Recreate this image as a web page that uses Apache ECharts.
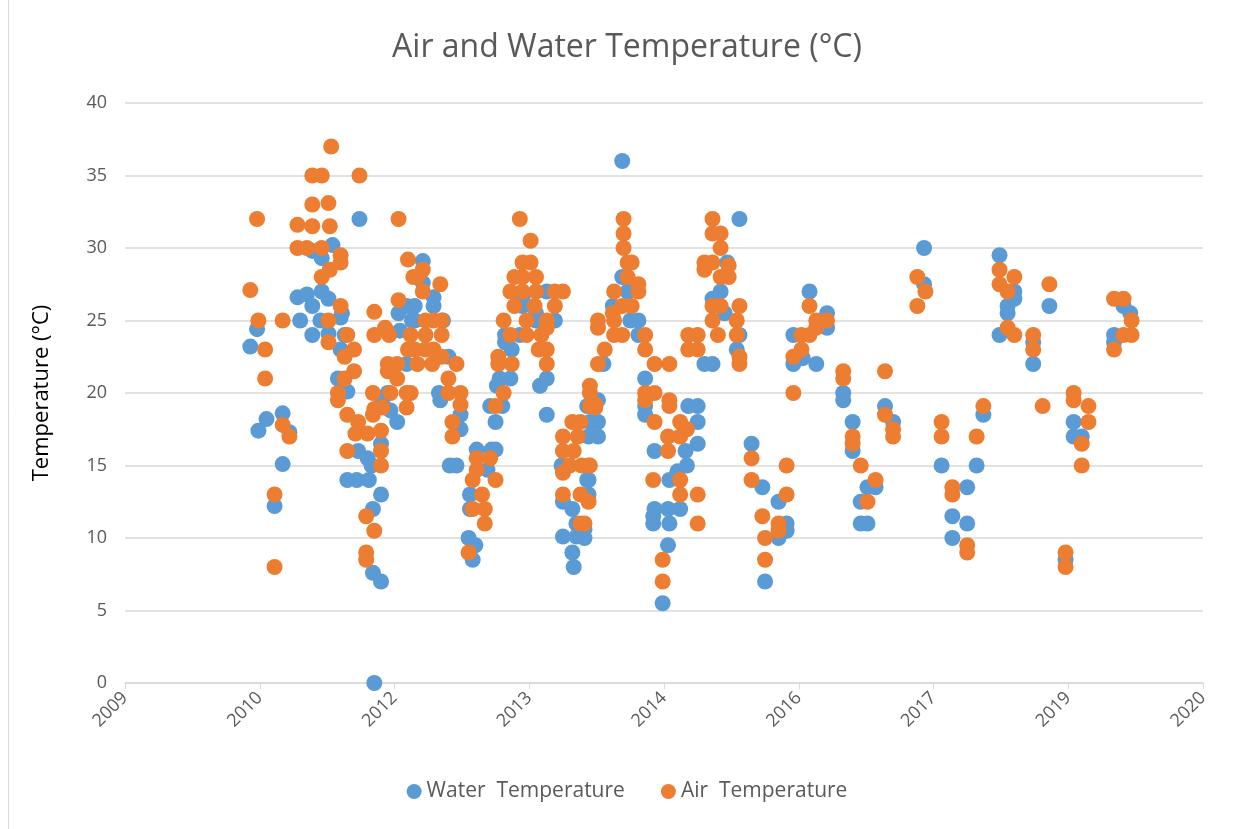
<!DOCTYPE html>
<html>
<head>
<meta charset="utf-8">
<title>Air and Water Temperature</title>
<script src="https://cdn.jsdelivr.net/npm/echarts@6/dist/echarts.min.js"></script>
<style>
  html, body { margin: 0; padding: 0; background: #fff; }
  #main { width: 1254px; height: 829px; }
</style>
</head>
<body>
<div id="main"></div>
<script>
// x tick labels (date axis as Excel printed it, one per major unit)
const xLabels = ['2009', '2010', '2012', '2013', '2014', '2016', '2017', '2019', '2020'];

// x is in major-unit steps from the first tick, y in °C
const waterTemp = [
  [0.93,23.2],[0.98,24.4],[0.99,17.4],[1.05,18.2],[1.11,12.2],[1.17,18.6],[1.17,15.1],[1.22,17.3],
  [1.28,26.6],[1.35,26.8],[1.39,26.0],[1.46,27.0],[1.51,26.5],[1.30,25.0],[1.45,25.0],[1.39,24.0],
  [1.51,24.1],[1.63,24.0],[1.61,25.5],[1.60,25.2],[1.60,23.0],[1.58,21.0],[1.65,20.1],[1.74,32.0],
  [1.54,30.2],[1.39,29.8],[1.46,29.3],
  [1.65,14.0],[1.72,14.0],[1.81,14.0],[1.73,16.0],[1.80,15.5],[1.83,15.0],[1.90,16.5],[1.90,13.0],
  [1.84,12.0],[1.84,7.6],[1.90,7.0],[1.85,0],
  [1.97,18.8],[2.02,18.0],[1.95,20.0],[1.91,19.3],[2.03,25.5],[2.09,26.0],[2.13,25.0],[2.04,24.3],[2.09,22.0],
  [2.21,29.1],[2.21,27.6],[2.29,26.6],[2.29,26.0],[2.15,26.0],[2.15,25.0],[2.36,25.0],[2.40,22.5],[2.33,20.0],
  [2.34,19.5],[2.49,18.5],[2.49,17.5],[2.41,15.0],[2.46,15.0],[2.61,16.1],[2.72,16.1],[2.75,16.1],
  [2.69,14.7],[2.56,13.0],[2.56,12.0],[2.55,10.0],[2.60,9.5],[2.58,8.5],
  [2.71,19.1],[2.80,19.1],[2.75,18.0],[3.13,18.5],[3.43,19.1],[3.45,18.0],[3.24,15.0],[3.25,12.5],
  [3.32,12.0],[3.35,11.0],[3.25,10.1],[3.35,10.1],[3.32,9.0],[3.33,8.0],[3.43,14.0],
  [2.95,26.0],[2.95,26.6],[3.13,27.0],[3.19,25.0],[3.05,25.0],[3.05,25.5],[2.82,24.0],[2.82,23.5],
  [2.93,24.0],[2.87,23.0],[2.78,21.0],[2.86,21.0],[2.76,20.5],[3.13,21.0],[3.08,20.5],
  [3.69,36.0],[4.56,32.0],[3.69,28.0],[3.73,27.0],[3.62,26.0],[3.75,25.0],[3.81,25.0],[3.81,24.0],
  [3.55,22.0],[3.86,21.0],[4.47,29.0],[4.42,27.0],[4.36,26.5],[4.45,25.5],[4.56,24.0],[4.54,23.0],
  [4.30,22.0],[4.36,22.0],[3.51,19.5],[3.86,19.1],[4.18,19.1],[4.25,19.1],
  [3.47,18.0],[3.51,18.0],[3.51,17.0],[3.44,17.0],[3.44,14.0],[3.44,13.0],[3.41,10.6],[3.41,10.0],
  [3.86,18.5],[4.25,18.0],[4.25,16.5],[4.16,16.0],[4.17,15.0],[4.10,14.6],[3.93,16.0],[4.04,14.0],
  [3.93,12.0],[3.92,11.5],[3.92,11.0],[4.03,12.0],[4.12,12.0],[4.04,11.0],[4.03,9.5],[3.99,5.5],
  [4.65,16.5],[4.73,13.5],[4.75,7.0],
  [5.08,27.0],[5.21,25.5],[5.21,24.5],[4.96,24.0],[4.96,22.0],[5.03,22.4],[5.13,22.0],[5.93,30.0],
  [5.93,27.5],[5.33,20.0],[5.33,19.5],[5.64,19.1],
  [4.85,12.5],[4.91,11.0],[4.91,10.5],[4.85,10.0],[5.40,18.0],[5.40,16.0],[5.51,13.5],[5.57,13.5],
  [5.46,12.5],[5.46,11.0],[5.51,11.0],[5.70,18.0],[6.06,15.0],[6.14,11.5],[6.14,10.0],
  [6.49,29.5],[6.60,27.0],[6.60,26.5],[6.55,26.0],[6.55,25.5],[6.49,24.0],[6.86,26.0],[6.74,23.5],
  [6.74,22.0],[7.41,26.0],[7.46,25.5],[7.34,24.0],[7.34,23.5],
  [6.37,18.5],[6.32,15.0],[6.25,13.5],[6.25,11.0],[7.04,18.0],[7.04,17.0],[7.10,17.0],[6.98,8.5]
];

const airTemp = [
  [1.53,37.0],[1.39,35.0],[1.46,35.0],[1.74,35.0],[1.39,33.0],[1.51,33.1],[0.98,32.0],[2.03,32.0],
  [1.28,31.6],[1.39,31.5],[1.52,31.5],[1.28,30.0],[1.35,30.0],[1.46,30.0],[1.60,29.5],[1.60,29.0],
  [1.52,28.5],[1.46,28.0],[2.10,29.2],[2.14,28.0],[0.93,27.1],[1.60,26.0],[2.03,26.4],[1.85,25.6],
  [0.99,25.0],[1.17,25.0],[1.51,25.0],[1.65,24.0],[1.51,23.5],[1.85,24.0],[1.96,24.0],[1.93,24.5],
  [1.70,23.0],[1.63,22.5],[1.04,23.0],[1.04,21.0],[1.70,21.5],[1.63,21.0],[1.58,20.0],[1.58,19.5],
  [1.84,20.0],[1.95,22.0],[2.02,22.0],[1.95,21.5],[2.02,21.0],[2.10,23.0],[1.97,20.0],[2.09,20.0],
  [1.65,18.5],[1.73,18.0],[1.71,17.2],[1.80,17.2],[1.90,17.4],[1.85,18.9],[1.91,19.0],[1.84,18.5],
  [2.09,19.0],[1.17,17.8],[1.22,17.0],[1.65,16.0],[1.90,16.0],[1.90,15.0],[1.11,13.0],[1.11,8.0],
  [1.79,11.5],[1.85,10.5],[1.79,9.0],[1.79,8.5],
  [2.93,32.0],[3.01,30.5],[2.95,29.0],[3.01,29.0],[2.89,28.0],[2.95,28.0],[3.05,28.0],[2.86,27.0],
  [2.95,27.0],[3.05,27.0],[3.19,27.0],[3.25,27.0],[2.89,26.0],[3.04,26.0],[3.19,26.0],[2.81,25.0],
  [2.98,25.0],[3.13,25.0],[2.86,24.0],[2.98,24.0],[3.09,24.0],[3.13,24.5],[3.07,23.0],[3.13,23.0],
  [2.77,22.5],[2.77,22.0],[2.87,22.0],[3.13,22.0],[2.81,20.0],[2.75,19.1],[3.45,20.5],[3.45,20.0],
  [2.17,28.0],[2.21,28.5],[2.34,27.5],[2.21,27.0],[2.23,25.0],[2.29,25.0],[2.35,25.0],[2.12,24.0],
  [2.23,24.0],[2.35,24.0],[2.15,23.0],[2.23,23.0],[2.29,23.0],[2.17,22.0],[2.28,22.0],[2.35,22.5],
  [2.46,22.0],[2.40,21.0],[2.40,20.0],[2.49,20.0],[2.49,19.2],[2.12,20.0],
  [2.43,18.0],[2.43,17.0],[2.61,15.5],[2.71,15.5],[2.61,14.7],[2.58,14.0],[2.75,14.0],[2.65,13.0],
  [2.58,12.0],[2.67,12.0],[2.67,11.0],[2.55,9.0],[3.32,18.0],[3.38,18.0],[3.25,17.0],[3.36,17.0],
  [3.25,16.0],[3.33,16.0],[3.30,15.0],[3.39,15.0],[3.45,15.0],[3.25,14.5],[3.25,13.0],[3.38,13.0],
  [3.38,11.0],[3.45,19.1],
  [3.70,32.0],[3.70,31.0],[3.70,30.0],[3.73,29.0],[3.76,29.0],[3.73,28.0],[3.81,27.5],[3.81,27.0],
  [3.63,27.0],[3.69,26.0],[3.76,26.0],[3.62,25.5],[3.51,25.0],[3.51,24.5],[3.63,25.0],[3.63,24.0],
  [3.69,24.0],[3.86,24.0],[3.56,23.0],[3.86,23.0],[3.51,22.0],[3.93,22.0],[4.04,22.0],[3.86,20.0],
  [3.93,20.0],[3.86,19.5],[4.04,19.5],[4.04,19.1],[3.49,19.2],
  [4.36,32.0],[4.36,31.0],[4.42,31.0],[4.42,30.0],[4.30,29.0],[4.36,29.0],[4.30,28.5],[4.48,28.8],
  [4.42,28.0],[4.48,28.0],[4.36,26.0],[4.42,26.0],[4.56,26.0],[4.36,25.0],[4.54,25.0],[4.40,24.0],
  [4.54,24.0],[4.18,24.0],[4.25,24.0],[4.18,23.0],[4.25,23.0],[4.56,22.5],[4.56,22.0],
  [3.49,19.0],[3.44,15.0],[3.44,12.5],[3.41,11.0],[3.93,18.0],[4.12,18.0],[4.17,17.5],[4.03,17.0],
  [4.12,17.0],[4.03,16.0],[3.92,14.0],[4.12,14.0],[4.12,13.0],[4.25,13.0],[4.25,11.0],[3.99,8.5],
  [3.99,7.0],[4.65,15.5],[4.65,14.0],[4.73,11.5],[4.75,10.0],[4.75,8.5],
  [5.08,26.0],[5.13,25.0],[5.21,25.0],[5.13,24.5],[5.08,24.0],[5.02,24.0],[5.02,23.0],[4.96,22.5],
  [4.96,20.0],[5.33,21.5],[5.33,21.0],[5.64,21.5],[5.88,28.0],[5.94,27.0],[5.88,26.0],
  [4.91,15.0],[4.91,13.0],[4.85,11.0],[4.85,10.5],[5.40,17.0],[5.40,16.5],[5.46,15.0],[5.57,14.0],
  [5.51,12.5],[5.64,18.5],[5.70,17.5],[5.70,17.0],[6.06,18.0],[6.06,17.0],[6.14,13.5],[6.14,13.0],
  [6.49,28.5],[6.60,28.0],[6.49,27.5],[6.55,27.0],[6.55,24.5],[6.60,24.0],[6.86,27.5],[6.74,24.0],
  [6.74,23.0],[7.34,26.5],[7.41,26.5],[7.47,25.0],[7.41,24.0],[7.47,24.0],[7.34,23.0],[6.37,19.1],
  [6.81,19.1],[7.04,20.0],[7.04,19.5],[7.15,19.1],
  [6.32,17.0],[6.25,9.5],[6.25,9.0],[7.15,18.0],[7.10,16.5],[7.10,15.0],[6.98,9.0],[6.98,8.0]
];

const seriesNames = ['Water  Temperature', 'Air  Temperature'];
const seriesColors = ['#5b9bd5', '#ed7d31'];

const chart = echarts.init(document.getElementById('main'));
chart.setOption({
  animation: false,
  color: seriesColors,
  textStyle: { fontFamily: 'Open Sans' },
  title: {
    text: 'Air and Water Temperature (°C)',
    left: 'center',
    top: 27,
    textStyle: { fontSize: 32, fontWeight: 'normal', color: '#595959', fontFamily: 'Open Sans' }
  },
  // thin chart-area border on the left edge
  graphic: [{
    type: 'line',
    shape: { x1: 8.5, y1: 0, x2: 8.5, y2: 829 },
    style: { stroke: '#d9d9d9', lineWidth: 1 }
  }],
  legend: {
    bottom: 22,
    icon: 'circle',
    itemWidth: 15,
    itemHeight: 15,
    itemGap: 36,
    textStyle: { fontSize: 21, color: '#595959' },
    data: seriesNames
  },
  grid: { left: 125, right: 51, top: 103, bottom: 146 },
  xAxis: {
    type: 'value',
    min: 0,
    max: 8,
    interval: 1,
    axisLine: { lineStyle: { color: '#d9d9d9', width: 1.5 } },
    axisTick: { show: true, length: 6, lineStyle: { color: '#d9d9d9' } },
    splitLine: { show: false },
    axisLabel: {
      rotate: 45,
      fontSize: 18,
      color: '#595959',
      margin: 12,
      formatter: v => xLabels[Math.round(v)]
    }
  },
  yAxis: {
    type: 'value',
    min: 0,
    max: 40,
    interval: 5,
    name: 'Temperature (°C)',
    nameLocation: 'middle',
    nameRotate: 90,
    nameGap: 72,
    nameTextStyle: { fontSize: 22, color: '#000' },
    axisLine: { show: false },
    axisTick: { show: false },
    splitLine: { lineStyle: { color: '#d9d9d9', width: 1.5 } },
    axisLabel: { fontSize: 18, color: '#595959', margin: 18 }
  },
  series: [
    { name: seriesNames[0], type: 'scatter', symbolSize: 16, itemStyle: { opacity: 1 }, data: waterTemp },
    { name: seriesNames[1], type: 'scatter', symbolSize: 16, itemStyle: { opacity: 1 }, data: airTemp }
  ]
});
</script>
</body>
</html>
